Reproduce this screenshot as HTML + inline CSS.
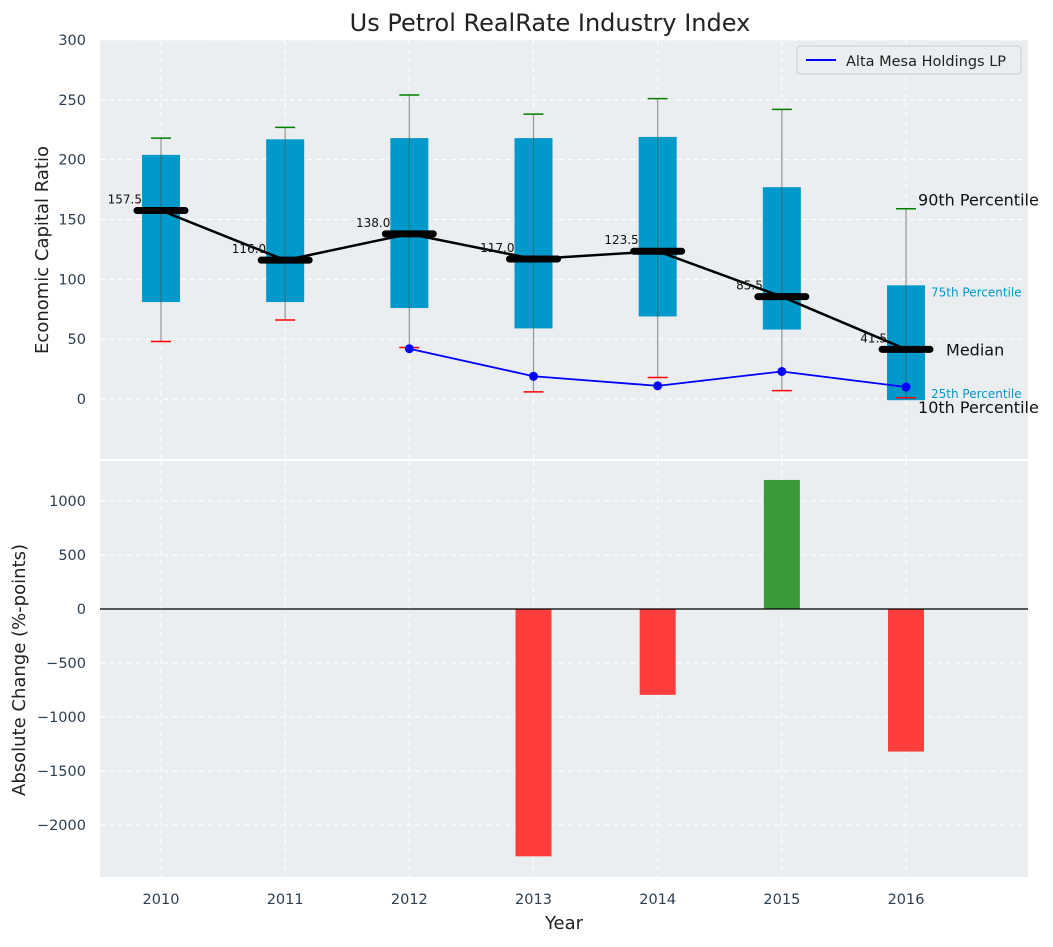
<!DOCTYPE html>
<html><head><meta charset="utf-8"><style>
body{margin:0;background:#fff;}
svg text{font-family:"DejaVu Sans","Liberation Sans",sans-serif;}
</style></head><body>
<svg id="chart" width="1053" height="942" xmlns="http://www.w3.org/2000/svg">
<text x="550" y="31" font-size="24" text-anchor="middle" fill="#222">Us Petrol RealRate Industry Index</text>
<rect x="100" y="40" width="928" height="419" fill="#eaeef0"/>
<rect x="100" y="461" width="928" height="416" fill="#eaeef0"/>
<g id="gtop"></g><g id="gbot"></g>
<text x="48" y="250" font-size="18" fill="#222" text-anchor="middle" transform="rotate(-90 48 250)">Economic Capital Ratio</text>
<text x="25" y="670" font-size="18" fill="#222" text-anchor="middle" transform="rotate(-90 25 670)">Absolute Change (%-points)</text>
<text x="564" y="929" font-size="18" fill="#222" text-anchor="middle">Year</text>
<g id="legend">
<rect x="797" y="46" width="224" height="28" fill="#eaeef0" stroke="#ccc" rx="3"/>
<line x1="806" y1="60" x2="836" y2="60" stroke="#0000ff" stroke-width="2"/>
<text x="846" y="66" font-size="14.5" fill="#222">Alta Mesa Holdings LP</text>
</g>
</svg>
<script>
const years=[2010,2011,2012,2013,2014,2015,2016];
const p10=[48,66,43,6,18,7,1];
const q1=[81,81,76,59,69,58,-1];
const median=[157.5,116.0,138.0,117.0,123.5,85.5,41.5];
const q3=[204,217,218,218,219,177,95];
const p90=[218,227,254,238,251,242,159];
const altaYears=[2012,2013,2014,2015,2016];
const altaValues=[42,19,11,23,10];
const changeYears=[2013,2014,2015,2016];
const changeValues=[-2290,-795,1195,-1320];
const topTicks=[0,50,100,150,200,250,300];
const botTicks=[-2000,-1500,-1000,-500,0,500,1000];

const NS="http://www.w3.org/2000/svg";
const X=y=>161+(y-2010)*124.17;
const YT=v=>399-v*1.1967;
const YB=v=>609-v*0.108;
function mk(parent,tag,attrs,txt){const e=document.createElementNS(NS,tag);for(const k in attrs)e.setAttribute(k,attrs[k]);if(txt!==undefined)e.textContent=txt;parent.appendChild(e);return e;}
const gTop=document.getElementById('gtop'),gBot=document.getElementById('gbot');
topTicks.forEach(t=>{
 const g=mk(gTop,'line',{x1:100,x2:1028,y1:YT(t),y2:YT(t),stroke:'#fff','stroke-dasharray':'5,4','stroke-width':1});
 
 
 const l=mk(gTop,'text',{x:86,y:YT(t)+5,'font-size':14.5,fill:'#2c3e50','text-anchor':'end'},t);
 
 
});
botTicks.forEach(t=>{
 const g=mk(gBot,'line',{x1:100,x2:1028,y1:YB(t),y2:YB(t),stroke:'#fff','stroke-dasharray':'5,4','stroke-width':1});
 
 
 const l=mk(gBot,'text',{x:86,y:YB(t)+5,'font-size':14.5,fill:'#2c3e50','text-anchor':'end'},t<0?'\u2212'+(-t):t);
 
 
});
years.forEach(y=>{
 [[40,459],[461,877]].forEach(r=>{const g=mk(gTop,'line',{x1:X(y),x2:X(y),y1:r[0],y2:r[1],stroke:'#fff','stroke-dasharray':'5,4'});
 
 });
 const l=mk(gBot,'text',{x:X(y),y:904,'font-size':14.5,fill:'#2c3e50','text-anchor':'middle'},y);
 
 
});
years.forEach((y,i)=>{
 const x=X(y);
 const b=mk(gTop,'rect',{x:x-19,y:YT(q3[i]),width:38,height:YT(q1[i])-YT(q3[i]),fill:'#0099cc'});
 
 
 const w=mk(gTop,'line',{x1:x,x2:x,y1:YT(p90[i]),y2:YT(p10[i]),stroke:'#555','stroke-opacity':0.6,'stroke-width':1.2});
 
 
 const c1=mk(gTop,'line',{x1:x-10,x2:x+10,y1:YT(p90[i]),y2:YT(p90[i]),stroke:'green','stroke-width':1.5});
 
 
 const c2=mk(gTop,'line',{x1:x-10,x2:x+10,y1:YT(p10[i]),y2:YT(p10[i]),stroke:'red','stroke-width':1.5});
 
 
});
const mp=mk(gTop,'polyline',{points:years.map((y,i)=>X(y)+','+YT(median[i])).join(' '),fill:'none',stroke:'#000','stroke-width':2.5});


years.forEach((y,i)=>{
 const x=X(y);
 const m=mk(gTop,'line',{x1:x-24,x2:x+24,y1:YT(median[i]),y2:YT(median[i]),stroke:'#000','stroke-width':7,'stroke-linecap':'round'});
 
 
 const t=mk(gTop,'text',{x:x-19,y:YT(median[i])-7,'font-size':12,fill:'#111','text-anchor':'end'},median[i].toFixed(1));
 
 
});
const ap=mk(gTop,'polyline',{points:altaYears.map((y,i)=>X(y)+','+YT(altaValues[i])).join(' '),fill:'none',stroke:'#0000ff','stroke-width':1.8});


altaYears.forEach((y,i)=>{
 const c=mk(gTop,'circle',{cx:X(y),cy:YT(altaValues[i]),r:4.5,fill:'#0000ff'});
 
 
});
const li=6,lx=X(years[li]);
[[lx+12,YT(p90[li])-3,'90th Percentile',16,'#111'],[lx+25,YT(q3[li])+11,'75th Percentile',12,'#0099cc'],[lx+40,YT(median[li])+6,'Median',16,'#111'],[lx+25,YT(q1[li])-2,'25th Percentile',12,'#0099cc'],[lx+12,YT(p10[li])+15,'10th Percentile',16,'#111']].forEach(a=>{
 const t=mk(gTop,'text',{x:a[0],y:a[1],'font-size':a[3],fill:a[4]},a[2]);
 
 
});
changeYears.forEach((y,i)=>{
 const v=changeValues[i];
 const r=mk(gBot,'rect',{x:X(y)-18,y:Math.min(YB(v),YB(0)),width:36,height:Math.abs(YB(v)-YB(0)),fill:v<0?'#ff3d3d':'#3a9a3a'});
 
 
});
const z=mk(gBot,'line',{x1:100,x2:1028,y1:YB(0),y2:YB(0),stroke:'#000','stroke-width':1.2});


document.getElementById('chart').appendChild(document.getElementById('legend'));
</script>
</body></html>
